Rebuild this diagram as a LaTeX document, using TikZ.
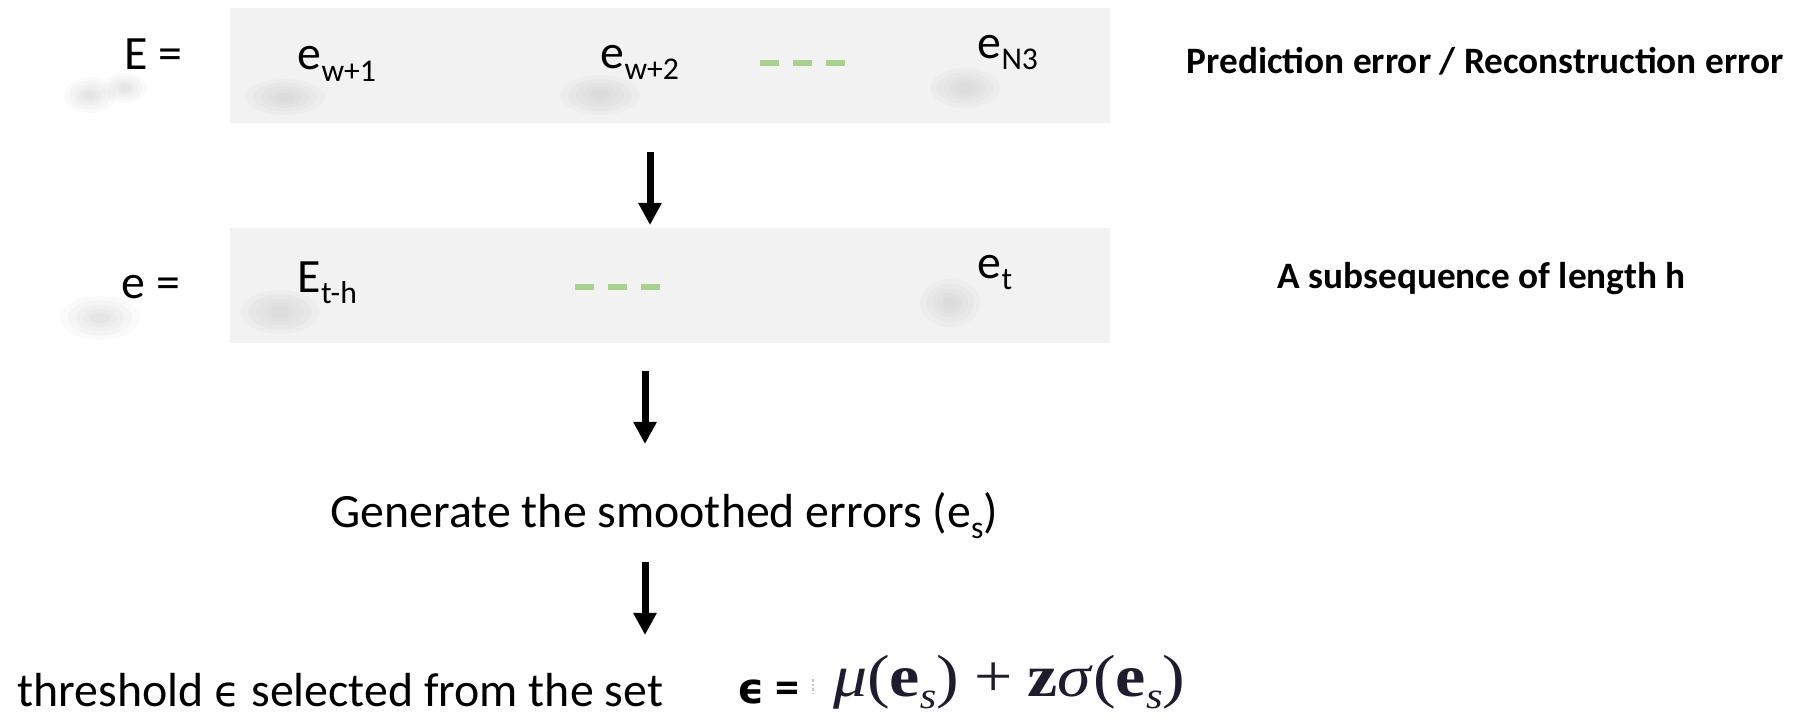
\documentclass[tikz,border=0pt]{standalone}
\usepackage{fontspec}
\setmainfont{Carlito}
\newfontfamily\dejavu{DejaVu Sans}
\newfontfamily\tms{Liberation Serif}
\usepackage{graphicx}
\usetikzlibrary{arrows.meta}
\definecolor{boxgray}{HTML}{F2F2F2}
\definecolor{dashgreen}{HTML}{A9D18E}
\definecolor{formcol}{RGB}{30,28,45}
\newcommand{\mysub}[1]{\raisebox{-3.4pt}{\fontsize{9pt}{9pt}\selectfont #1}}
\newcommand{\fsub}[1]{\raisebox{-0.2em}{\fontsize{10pt}{10pt}\selectfont\itshape #1}}
\newcommand{\blob}[4]{%
  \foreach \k in {1,0.8,0.6,0.42,0.25}{%
    \fill[black!45, opacity=0.045] (#1,#2) ellipse [x radius={#3*\k*0.28453pt}, y radius={#4*\k*0.28453pt}];}}
\begin{document}
\begin{tikzpicture}[x=0.01cm,y=-0.01cm,
  rowbox/.style={fill=boxgray, draw=none, inner sep=0, outer sep=0, anchor=north west, minimum width=8.79cm, minimum height=1.15cm},
  body/.style={font=\fontsize{13.6pt}{16pt}\selectfont, inner sep=0, anchor=base west},
  note/.style={font=\bfseries\fontsize{10.6pt}{13pt}\selectfont, inner sep=0, anchor=base west},
  flow/.style={-{Triangle[width=0.22cm,length=0.22cm]}, line width=0.07cm},
  gdash/.style={dashgreen, line width=0.055cm, dash pattern=on 0.19cm off 0.14cm},
]
\useasboundingbox (0,0) rectangle (1800,715);
\fill[white] (0,0) rectangle (1800,715);

% shadow blobs outside boxes
\blob{90}{95}{26}{18}
\blob{125}{88}{22}{15}
\blob{100}{318}{40}{22}

% rows
\node[rowbox] (row1) at (230,8) {};
\node[rowbox] (row2) at (230,228) {};

% shadow blobs inside boxes
\blob{285}{97}{40}{18}
\blob{600}{95}{40}{20}
\blob{965}{88}{35}{20}
\blob{280}{312}{40}{22}
\blob{950}{303}{30}{24}

% row 1 texts
\node[body] (Elbl) at (124,70) {E =};
\node[body] (ew1) at (297,70) {e\mysub{w+1}};
\node[body] (ew2) at (600,68) {e\mysub{w+2}};
\node[body] (eN3) at (977,58) {e\mysub{N3}};
\coordinate (d1s) at (760,63);
\coordinate (d1e) at (845,63);
\draw[gdash] (d1s) -- (d1e);

% row 2 texts
\node[body] (elbl) at (121,298) {e =};
\node[body] (Eth) at (297,292) {E\mysub{t-h}};
\node[body] (et) at (977,278) {e\mysub{t}};
\coordinate (d2s) at (575,287);
\coordinate (d2e) at (661,287);
\draw[gdash] (d2s) -- (d2e);

% side notes
\node[note] (pred) at (1186,73) {Prediction error / Reconstruction error};
\node[note] (subs) at (1277,288) {A subsequence of length h};

% generate text
\node[body] (gen) at (330,527) {Generate the smoothed errors (e\mysub{s})};

% threshold line
\node[body] (thr) at (17,706) {threshold {\dejavu\fontsize{12pt}{12pt}\selectfont ϵ} selected from the set};
\node[body, font=\bfseries\fontsize{13.6pt}{16pt}\selectfont] (epseq) at (737,703) {{\dejavu\bfseries\fontsize{12pt}{12pt}\selectfont ϵ} =};
\draw[gray!45, line width=0.015cm, dash pattern=on 0.025cm off 0.02cm] (813,679) -- (813,694);
\node[inner sep=0, outer sep=0, anchor=west, text=formcol] (form) at (833,682)
  {\resizebox*{3.52cm}{0.54cm}{\tms\fontsize{16pt}{16pt}\selectfont\textit{μ}(\textbf{e}\fsub{s})\hspace{0.22em}+\hspace{0.22em}\textbf{z}\textit{σ}(\textbf{e}\fsub{s})}};

% arrows
\coordinate (a1s) at (650,152);
\coordinate (a1e) at (650,225);
\coordinate (a2s) at (645,371);
\coordinate (a2e) at (645,444);
\coordinate (a3s) at (645,562);
\coordinate (a3e) at (645,635);
\draw[flow] (a1s) -- (a1e);
\draw[flow] (a2s) -- (a2e);
\draw[flow] (a3s) -- (a3e);
\end{tikzpicture}
\end{document}
